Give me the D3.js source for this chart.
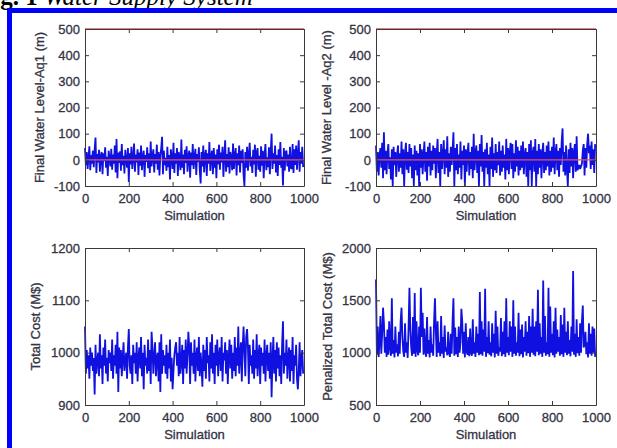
<!DOCTYPE html>
<html>
<head>
<meta charset="utf-8">
<script src="https://cdn.jsdelivr.net/npm/d3@7"></script>
<style>
  body { margin: 0; background: #fff; }
  svg { display: block; }
</style>
</head>
<body>
<svg id="chart" width="617" height="448"></svg>
<script>
'use strict'

// every 4th simulation run
const simStep = 4

const levelAq1 = [
  45, -20, 30, -35, 10, 52, -40, 18, -15, 35,
  -28, 40, 85, -50, 22, -10, 38, -45, 15, 30,
  -55, 25, -5, 48, -30, 12, -62, 35, 5, -25,
  42, -38, 20, -15, 55, -48, 80, -70, 28, -12,
  33, -42, 60, -20, 15, -52, 38, 0, -30, 45,
  -85, 25, -18, 50, -35, 8, 62, -45, 20, -10,
  40, -58, 28, -22, 55, -40, 12, 35, -65, 18,
  -8, 48, -32, 25, -50, 70, -25, 10, 40, -48,
  22, -15, 58, -38, 30, -60, 15, 45, 88, -55,
  35, -20, 8, -42, 50, -28, 18, -75, 40, 12,
  -35, 65, -50, 25, -15, 45, -62, 30, 5, -40,
  78, -30, 20, -55, 38, -12, 52, -45, 15, 35,
  -68, 28, -20, 60, -35, 10, 42, -58, 22, -8,
  48, -40, -90, 30, -25, 55, -48, 18, 38, -62,
  25, -15, 68, -42, 12, 35, -55, 45, -30, 20,
  -70, 40, -18, 58, -38, 28, -10, 50, -65, 15,
  75, -45, 22, -28, 48, -52, 30, 8, -40, 62,
  -35, 18, 45, -60, 25, -20, 55, -48, 35, -12,
  40, -58, -100, 30, -30, 50, -42, 20, 65, -25,
  12, -50, 38, -18, 58, -65, 28, 45, -38, 15,
  -45, 52, -22, 35, -70, 20, 60, -40, 10, -28,
  48, -55, 30, 100, -35, 25, -15, 55, -48, 18,
  -62, 40, -20, 68, -30, 12, -98, 45, -42, 28,
  35, -25, 20, -45, 50, -30, -35, 60, -50, 40,
  -20, 55, -38, 25, 75, -45, 30, -15, 50, -28
]

const levelAq2 = [
  55, -45, 30, -60, 20, 45, -30, 65, -70, 105,
  -40, 35, -55, 25, 60, -35, 10, -75, 40, -100,
  50, -20, 30, -65, 15, 55, -45, 25, -30, 70,
  -55, 40, -100, 20, 65, -38, 30, -50, 60, -25,
  45, -70, 20, -100, 55, -40, 35, -60, 25, -100,
  60, -30, 40, -55, 18, 70, -45, 30, -80, 50,
  -25, 65, -60, 35, -40, 55, -15, 45, -70, 25,
  80, -50, 30, -100, 60, -35, 20, 75, -55, 40,
  -30, 90, -65, 25, -45, 50, -20, 35, 105, -100,
  45, -40, 60, -55, 20, -30, 70, -75, 35, -20,
  55, -100, 40, -45, 25, 65, -60, 30, -35, 50,
  -70, 100, -40, 20, 55, -50, 35, -100, 60, -25,
  95, -45, 30, -100, 40, -30, 65, -55, 20, -100,
  50, -35, 85, -65, 25, -40, 60, -50, 30, -20,
  70, -60, 35, -45, 55, -30, 20, -75, 80, -40,
  45, -55, 30, 65, -35, 60, -70, 25, -45, 75,
  -25, 50, -60, 35, -40, 55, -30, 70, -55, 20,
  45, -65, 30, -100, 60, -40, 75, -100, 25, 50,
  -45, 80, -100, 35, -55, 60, -30, 40, -70, 25,
  65, -50, 30, -40, 55, -25, 70, -60, 35, -45,
  50, -30, 85, -55, 25, 60, -40, 35, -65, 45,
  -20, 70, 120, -45, 30, -60, 55, -35, -100, 40,
  -50, 65, -25, 45, -70, 30, 60, -45, 90, -40,
  -30, -20, -35, -25, -15, 35, 60, -60, 45, -30,
  60, 100, 25, 55, -35, 70, -20, 40, -50, 60
]

const totalCost = [
  1050, 960, 1005, 970, 995, 950, 1010, 975, 1000, 965,
  990, 920, 1015, 960, 985, 1000, 955, 1035, 970, 995,
  940, 1010, 975, 1025, 960, 990, 945, 1005, 980, 1000,
  965, 1025, 950, 995, 975, 1015, 960, 1040, 925, 1010,
  970, 1005, 955, 990, 1020, 965, 985, 1000, 950, 1010,
  1045, 975, 960, 995, 940, 1015, 980, 1000, 960, 1020,
  945, 990, 1010, 970, 1030, 955, 1000, 930, 1015, 975,
  990, 960, 1025, 965, 1005, 940, 1040, 1010, 960, 995,
  1020, 955, 990, 1000, 945, 1020, 925, 1035, 960, 1005,
  975, 995, 960, 1015, 950, 1000, 970, 1025, 945, 990,
  930, 965, 995, 1010, 1020, 975, 1000, 955, 1030, 960,
  985, 1015, 940, 1005, 970, 1025, 960, 995, 1040, 1010,
  940, 1020, 975, 1000, 960, 1025, 945, 990, 1010, 965,
  1030, 955, 1000, 975, 935, 1015, 965, 1005, 950, 1030,
  980, 995, 945, 1020, 970, 1035, 960, 1000, 940, 1015,
  975, 1025, 955, 995, 1010, 965, 1030, 945, 1000, 985,
  1020, 960, 1005, 940, 990, 1025, 970, 1015, 950, 1000,
  965, 1030, 955, 1010, 975, 1050, 960, 995, 1020, 945,
  1010, 1050, 1000, 955, 1030, 1045, 1010, 940, 1015, 975,
  995, 960, 1025, 950, 1005, 970, 1035, 955, 990, 1015,
  940, 1010, 975, 1000, 960, 1025, 945, 995, 1015, 965,
  1000, 950, 1020, 915, 985, 1030, 960, 1005, 945, 1020,
  970, 1010, 955, 995, 940, 1015, 1060, 960, 1000, 975,
  1025, 950, 990, 1010, 945, 1005, 965, 1030, 940, 995,
  975, 1015, 950, 930, 965, 1020, 955, 990, 1005, 960
]

const penalizedCost = [
  1700, 980, 1250, 960, 1100, 1350, 990, 1180, 1430, 1280,
  1000, 1150, 960, 1220, 980, 1300, 1050, 970, 1520, 990,
  1120, 955, 1250, 1000, 1080, 965, 1200, 990, 1300, 1430,
  1150, 1010, 960, 1280, 1000, 1100, 950, 1240, 1620, 1220,
  1050, 970, 1340, 990, 1570, 960, 1300, 1020, 975, 1250,
  1000, 1620, 1150, 1380, 980, 1230, 1010, 960, 1340, 990,
  1120, 955, 1250, 1000, 1080, 970, 1300, 1520, 1200, 960,
  1300, 1000, 1100, 965, 1350, 990, 1150, 950, 1260, 1010,
  1050, 975, 1200, 1000, 960, 1180, 990, 1300, 1520, 970,
  1240, 985, 1150, 960, 1250, 1000, 1100, 1420, 1300, 990,
  1200, 955, 1280, 1010, 980, 1150, 965, 1230, 1000, 970,
  1320, 990, 1100, 960, 1250, 1000, 1180, 975, 1580, 985,
  1300, 970, 1220, 1010, 1610, 960, 1150, 995, 1300, 980,
  1100, 965, 1280, 1000, 1180, 955, 1400, 990, 1250, 970,
  1050, 1010, 1330, 965, 1200, 985, 1300, 960, 1520, 1000,
  1150, 975, 1300, 1010, 1250, 960, 1500, 990, 1250, 970,
  1100, 1000, 1380, 965, 1220, 985, 1270, 955, 1150, 1010,
  1300, 970, 1200, 995, 1350, 960, 1250, 1000, 1420, 980,
  1250, 965, 1300, 1010, 1600, 975, 1280, 990, 1150, 960,
  1690, 1000, 1350, 970, 1100, 985, 1620, 960, 1440, 1000,
  1180, 975, 1300, 955, 1430, 990, 1220, 1010, 1150, 970,
  1360, 985, 1270, 960, 1430, 1000, 1200, 975, 1300, 990,
  1120, 965, 1250, 1010, 1780, 980, 1180, 960, 1320, 995,
  1150, 970, 1280, 1000, 1300, 1450, 1050, 1080, 1200, 985,
  1100, 955, 1280, 990, 1180, 970, 1250, 1000, 1230, 960
]

const xTicks = [0, 200, 400, 600, 800, 1000]
const levelTicks = [-100, 0, 100, 200, 300, 400, 500]
const costTicks = [900, 1000, 1100, 1200]
const penaltyTicks = [500, 1000, 1500, 2000]
const levelLimits = [500, 0]   // red reference lines

const panels = [
  { values: levelAq1, domain: [-100, 500], ticks: levelTicks, limits: levelLimits,
    label: 'Final Water Level-Aq1 (m)', left: 85, right: 304, top: 29, bottom: 186, labelX: 39 },
  { values: levelAq2, domain: [-100, 500], ticks: levelTicks, limits: levelLimits,
    label: 'Final Water Level -Aq2 (m)', left: 376, right: 596, top: 29, bottom: 186, labelX: 326 },
  { values: totalCost, domain: [900, 1200], ticks: costTicks, limits: [],
    label: 'Total Cost (M$)', left: 85, right: 304, top: 248, bottom: 405, labelX: 35 },
  { values: penalizedCost, domain: [500, 2000], ticks: penaltyTicks, limits: [],
    label: 'Penalized Total Cost (M$)', left: 376, right: 596, top: 248, bottom: 405, labelX: 327 }
]

const svg = d3.select('#chart')
const font = 'Liberation Sans, Arial, Helvetica, sans-serif'
const axisColor = '#3a3a3a'
const textColor = '#343444'
const plain = d => String(d)

// scanned labels look a little heavy, a thin outline gives the same weight
function labelStyle(sel) {
  sel.attr('font-family', font)
    .attr('font-size', 13)
    .attr('fill', textColor)
    .attr('stroke', textColor)
    .attr('stroke-width', 0.3)
}

panels.forEach(p => {
  const x = d3.scaleLinear().domain([0, 1000]).range([p.left, p.right])
  const y = d3.scaleLinear().domain(p.domain).range([p.bottom, p.top])
  const g = svg.append('g')

  // data trace
  const line = d3.line()
    .x((d, i) => x(i * simStep))
    .y(d => y(d))
  g.append('path')
    .datum(p.values)
    .attr('d', line)
    .attr('fill', 'none')
    .attr('stroke', '#1010e0')
    .attr('stroke-width', 1.8)
    .attr('stroke-linejoin', 'bevel')

  // limit lines
  p.limits.forEach(v => {
    g.append('line')
      .attr('x1', x(0)).attr('x2', x(1000))
      .attr('y1', y(v)).attr('y2', y(v))
      .attr('stroke', '#e8505c')
      .attr('stroke-width', 1.3)
  })

  // box with ticks on every side, pointing inward
  const axes = [
    [d3.axisBottom(x).tickValues(xTicks).tickPadding(8), `translate(0,${p.bottom})`, true],
    [d3.axisTop(x).tickValues(xTicks), `translate(0,${p.top})`, false],
    [d3.axisLeft(y).tickValues(p.ticks).tickPadding(5), `translate(${p.left},0)`, true],
    [d3.axisRight(y).tickValues(p.ticks), `translate(${p.right},0)`, false]
  ]
  axes.forEach(([axis, tr, showText]) => {
    const a = g.append('g')
      .attr('transform', tr)
      .call(axis.tickFormat(plain).tickSizeInner(-4).tickSizeOuter(0))
    a.select('.domain').attr('stroke', axisColor)
    a.selectAll('.tick line').attr('stroke', axisColor)
    a.selectAll('.tick text')
      .call(labelStyle)
      .style('display', showText ? null : 'none')
  })

  g.append('text')
    .attr('transform', `translate(${p.labelX},${(p.top + p.bottom) / 2}) rotate(-90)`)
    .attr('text-anchor', 'middle')
    .attr('dominant-baseline', 'central')
    .call(labelStyle)
    .text(p.label)

  g.append('text')
    .attr('x', (p.left + p.right) / 2)
    .attr('y', p.bottom + 34)
    .attr('text-anchor', 'middle')
    .call(labelStyle)
    .text('Simulation')
})

// caption, cut off by the top of the page as in the scan
const caption = svg.append('text')
  .attr('x', -22)
  .attr('y', 5)
  .attr('font-family', 'Liberation Serif, Times New Roman, serif')
  .attr('font-size', 25)
  .attr('fill', '#000')
caption.append('tspan').attr('font-weight', 'bold').text('Fig. 1')
caption.append('tspan').attr('font-style', 'italic').text(' Water Supply System')

// blue frame
svg.append('rect').attr('x', 7).attr('y', 8).attr('width', 610).attr('height', 5).attr('fill', '#0000ff')
svg.append('rect').attr('x', 7).attr('y', 8).attr('width', 5).attr('height', 440).attr('fill', '#0000ff')
</script>
</body>
</html>
